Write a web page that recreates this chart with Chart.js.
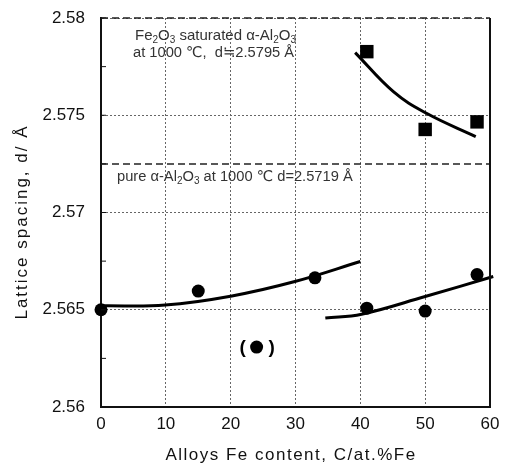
<!DOCTYPE html>
<html><head><meta charset="utf-8">
<script src="https://cdn.jsdelivr.net/npm/chart.js@4"></script>
<style>html,body{margin:0;padding:0;background:#fff}#wrap{width:509px;height:467px}</style>
</head><body><div id="wrap"><canvas id="c" width="509" height="467"></canvas></div>
<script>
// ---- data ----
const circleX = [0, 15, 33, 41, 50, 58];
const circleY = [2.565, 2.56596, 2.56664, 2.56508, 2.56493, 2.56681];
const bracketX = [24];
const bracketY = [2.56308];
const squareX = [41, 50, 58];
const squareY = [2.57827, 2.57427, 2.57466];
// fitted curves
const fitAX = [39.2, 45.1, 50.2, 57.8];
const fitAY = [2.57822, 2.57621, 2.57510, 2.57390];
const fitBX = [0, 9.9, 20.2, 29.9, 40];
const fitBY = [2.5652, 2.56524, 2.56571, 2.56645, 2.56748];
const fitCX = [34.6, 40.2, 50.0, 60.5];
const fitCY = [2.56457, 2.56477, 2.56568, 2.56671];
const refLevels = [2.58, 2.5725];
const xTicks = [0, 10, 20, 30, 40, 50, 60];
const yTicks = [2.56, 2.565, 2.57, 2.575, 2.58];
const yTickLabels = ['2.56', '2.565', '2.57', '2.575', '2.58'];

const pts = (xs, ys) => xs.map((x, i) => ({x, y: ys[i]}));
const FONT = "'Liberation Sans', 'DejaVu Sans', sans-serif";

function drawRich(ctx, parts, x, y, size) {
  let cx = x;
  for (const [t, sub] of parts) {
    ctx.font = (sub ? Math.round(size * 0.65) : size) + 'px ' + FONT;
    ctx.fillText(t, cx, sub ? y + size * 0.3 : y);
    cx += ctx.measureText(t).width;
  }
}

const deco = {
  id: 'deco',
  afterDatasetsDraw(chart) {
    const {ctx, chartArea: a, scales: {x, y}} = chart;
    ctx.save();
    // right border
    ctx.strokeStyle = '#111'; ctx.lineWidth = 2;
    ctx.beginPath(); ctx.moveTo(a.right, a.top); ctx.lineTo(a.right, a.bottom); ctx.stroke();
    // minor inward ticks on left axis
    ctx.lineWidth = 1;
    for (let v = 2.56; v <= 2.5801; v += 0.0025) {
      const py = y.getPixelForValue(v);
      ctx.beginPath(); ctx.moveTo(a.left, py); ctx.lineTo(a.left + 5, py); ctx.stroke();
    }
    // annotations
    ctx.fillStyle = '#333'; ctx.textBaseline = 'middle'; ctx.textAlign = 'left';
    drawRich(ctx, [['Fe', 0], ['2', 1], ['O', 0], ['3', 1], [' saturated α-Al', 0], ['2', 1], ['O', 0], ['3', 1]], 135, 36, 15);
    drawRich(ctx, [['at 1000 ℃,  d≒2.5795 Å', 0]], 133, 53, 14.7);
    drawRich(ctx, [['pure α-Al', 0], ['2', 1], ['O', 0], ['3', 1], [' at 1000 ℃ d=2.5719 Å', 0]], 117, 177, 14.7);
    // brackets around the outlier
    ctx.fillStyle = '#000'; ctx.textAlign = 'center';
    ctx.font = 'bold 19px ' + FONT;
    const bx = x.getPixelForValue(bracketX[0]), by = y.getPixelForValue(bracketY[0]);
    ctx.fillText('(', bx - 14, by + 1);
    ctx.fillText(')', bx + 15, by + 1);
    // axis titles
    ctx.fillStyle = '#111';
    ctx.font = '17px ' + FONT;
    ctx.letterSpacing = '1.5px';
    ctx.fillText('Alloys Fe content, C/at.%Fe', 291, 455);
    ctx.letterSpacing = '2px';
    ctx.translate(22, 222); ctx.rotate(-Math.PI / 2);
    ctx.fillText('Lattice spacing, d/ Å', 0, 0);
    ctx.restore();
  }
};

const lineDs = (xs, ys) => ({type: 'line', data: pts(xs, ys), borderColor: '#000', borderWidth: 3,
  pointRadius: 0, fill: false, tension: 0.4, clip: false});
const refDs = (v) => ({type: 'line', data: [{x: 0, y: v}, {x: 60, y: v}], borderColor: '#222',
  borderWidth: 1.5, borderDash: [7, 4], pointRadius: 0, fill: false, clip: false});

new Chart(document.getElementById('c'), {
  type: 'scatter',
  data: {datasets: [
    ...refLevels.map(refDs),
    lineDs(fitAX, fitAY), lineDs(fitBX, fitBY), lineDs(fitCX, fitCY),
    {data: pts(circleX, circleY), pointStyle: 'circle', pointRadius: 6.5, backgroundColor: '#000', borderColor: '#000', borderWidth: 0, clip: false},
    {data: pts(bracketX, bracketY), pointStyle: 'circle', pointRadius: 6.5, backgroundColor: '#000', borderColor: '#000', borderWidth: 0},
    {data: pts(squareX, squareY), pointStyle: 'rect', pointRadius: 9.5, backgroundColor: '#000', borderColor: '#000', borderWidth: 0}
  ]},
  options: {
    responsive: false, animation: false,
    layout: {padding: {left: 0, right: 19, top: 18, bottom: 0}},
    plugins: {legend: {display: false}, tooltip: {enabled: false}},
    scales: {
      x: {type: 'linear', min: 0, max: 60,
        afterFit(s) { s.height = 60; s.paddingLeft = 0; s.paddingRight = 0; },
        afterBuildTicks(s) { s.ticks = xTicks.map(v => ({value: v})); },
        ticks: {color: '#111', font: {size: 17, family: FONT}, padding: 7, maxRotation: 0},
        grid: {color: '#666', lineWidth: 1, drawTicks: false},
        border: {display: true, color: '#111', width: 2, dash: [2, 2]}},
      y: {type: 'linear', min: 2.56, max: 2.58,
        afterFit(s) { s.width = 101; s.paddingTop = 0; s.paddingBottom = 0; },
        afterBuildTicks(s) { s.ticks = yTicks.map(v => ({value: v})); },
        ticks: {color: '#111', font: {size: 17, family: FONT}, padding: 16,
          callback: (v) => yTickLabels[yTicks.findIndex(t => Math.abs(t - v) < 1e-6)]},
        grid: {color: '#666', lineWidth: 1, drawTicks: false},
        border: {display: true, color: '#111', width: 2, dash: [2, 2]}}
    }
  },
  plugins: [deco]
});
</script></body></html>
